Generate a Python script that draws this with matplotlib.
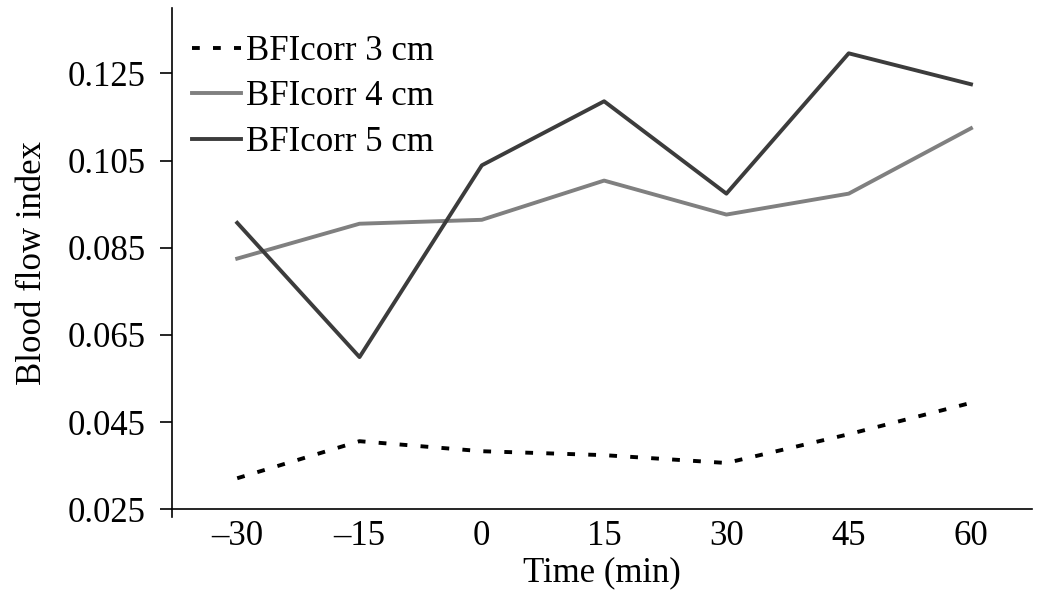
"""
Blood flow index over time at three source-detector separations.
"""

import matplotlib
matplotlib.use('Agg')
import matplotlib.pyplot as plt

# data
time_min = [-30, -15, 0, 15, 30, 45, 60]
bfi_3cm = [0.0321, 0.0406, 0.0383, 0.0374, 0.0356, 0.0422, 0.0494]
bfi_4cm = [0.0825, 0.0905, 0.0914, 0.1004, 0.0926, 0.0974, 0.1124]
bfi_5cm = [0.0907, 0.0599, 0.1039, 0.1186, 0.0974, 0.1296, 0.1225]
y_ticks = [0.025, 0.045, 0.065, 0.085, 0.105, 0.125]

plt.rcParams['font.family'] = ['Liberation Serif', 'DejaVu Serif']
plt.rcParams['font.size'] = 25

fig = plt.figure(figsize=(10.5, 6.15), dpi=100)
ax = fig.add_axes([0.1638, 0.1593, 0.8192, 0.8277])

ax.plot(time_min, bfi_3cm, color='black', lw=2.8, ls=(0, (2.0, 3.4)), label='BFIcorr 3 cm')
ax.plot(time_min, bfi_4cm, color='#808080', lw=2.8, label='BFIcorr 4 cm')
ax.plot(time_min, bfi_5cm, color='#3c3c3c', lw=2.8, label='BFIcorr 5 cm')

ax.set_xlim(-38, 67.5)
ax.set_ylim(0.0232, 0.14)
ax.set_xticks(time_min)
ax.set_xticklabels([str(t).replace('-', '\u2013') for t in time_min])
ax.set_yticks(y_ticks)
ax.set_yticklabels(['%.3f' % v for v in y_ticks])

ax.spines['top'].set_visible(False)
ax.spines['right'].set_visible(False)
ax.spines['bottom'].set_position(('data', 0.025))
ax.spines['left'].set_linewidth(1.2)
ax.spines['bottom'].set_linewidth(1.2)
ax.tick_params(axis='x', length=0, pad=8)
ax.tick_params(axis='y', length=9, width=1.2, pad=10)

ax.set_xlabel('Time (min)', labelpad=2)
ax.set_ylabel('Blood flow index', labelpad=13)

ax.legend(loc='upper left', frameon=False, handlelength=1.4, handletextpad=0.15,
          labelspacing=0.36, borderaxespad=0.3, bbox_to_anchor=(-0.005, 0.995))

fig.savefig('out.png', dpi=100)
